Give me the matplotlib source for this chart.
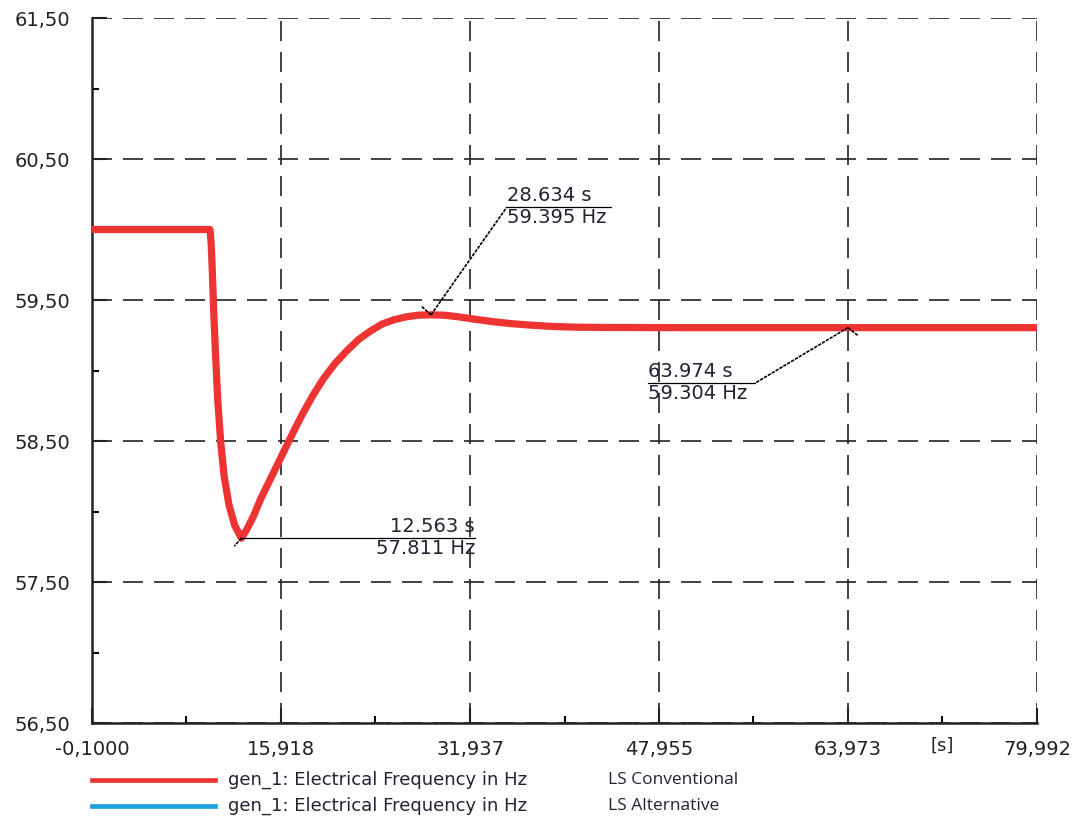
import numpy as np
import matplotlib.pyplot as plt
from matplotlib.lines import Line2D
from matplotlib.transforms import blended_transform_factory

# generator frequency after load shedding
time_s = [-0.1, 9.9, 10.0, 10.1, 10.2, 10.35, 10.55, 10.8, 11.1, 11.5, 12.0, 12.563,
          13.0, 13.6, 14.2, 14.9, 15.6, 16.3, 17.0, 17.8, 18.6, 19.5, 20.5, 21.5,
          22.5, 23.5, 24.5, 25.5, 26.5, 27.5, 28.634, 29.8, 31.0, 32.5, 34.0, 35.5,
          37.0, 39.0, 41.0, 44.0, 50.0, 63.974, 79.992]
freq_hz = [60.0, 60.0, 59.9, 59.7, 59.45, 59.15, 58.8, 58.5, 58.25, 58.05, 57.9, 57.811,
           57.87, 57.97, 58.09, 58.21, 58.33, 58.45, 58.57, 58.70, 58.82, 58.94, 59.05, 59.14,
           59.22, 59.28, 59.33, 59.36, 59.38, 59.392, 59.395, 59.392, 59.38, 59.362, 59.345, 59.332,
           59.322, 59.312, 59.307, 59.305, 59.304, 59.304, 59.304]

x_ticks = [-0.1, 15.918, 31.937, 47.955, 63.973, 79.992]
x_tick_labels = ['-0,1000', '15,918', '31,937', '47,955', '63,973', '79,992']
y_ticks = [56.5, 57.5, 58.5, 59.5, 60.5, 61.5]
y_tick_labels = ['56,50', '57,50', '58,50', '59,50', '60,50', '61,50']

# cursor readouts (time, value)
markers = [
    (12.563, 57.811),
    (28.634, 59.395),
    (63.974, 59.304),
]

series_names = ['gen_1: Electrical Frequency in Hz', 'gen_1: Electrical Frequency in Hz']
case_names = ['LS Conventional', 'LS Alternative']
series_colors = ['#ee3333', '#1ea0dc']

fig = plt.figure(figsize=(10.75, 8.21), dpi=100)
ax = fig.add_axes([92/1075, 1 - 723/821, (1037-92)/1075, (723-18)/821])

ax.plot(time_s, freq_hz, color=series_colors[0], lw=5.2, solid_joinstyle='round', zorder=3)

ax.set_xlim(x_ticks[0], x_ticks[-1])
ax.set_ylim(y_ticks[0], y_ticks[-1])
ax.set_xticks(x_ticks)
ax.set_xticklabels(x_tick_labels)
ax.set_yticks(y_ticks)
ax.set_yticklabels(y_tick_labels)
ax.set_xticks([(a + b) / 2 for a, b in zip(x_ticks[:-1], x_ticks[1:])], minor=True)
ax.set_yticks([(a + b) / 2 for a, b in zip(y_ticks[:-1], y_ticks[1:])], minor=True)

ax.tick_params(which='major', direction='in', length=11, width=1.5, labelsize=14, colors='#222222')
ax.tick_params(which='minor', direction='in', length=5, width=1.5)
ax.tick_params(axis='x', which='major', pad=12)
ax.tick_params(axis='y', which='major', pad=16)

for s in ['top', 'right']:
    ax.spines[s].set_visible(False)
for s in ['left', 'bottom']:
    ax.spines[s].set_linewidth(1.8)
    ax.spines[s].set_color('#222222')

ax.grid(True, which='major', color='#222222', lw=1.2, linestyle=(0, (12, 6.6)))

# unit label sits on the last minor tick
trans = blended_transform_factory(ax.transData, ax.transAxes)
ax.text(71.98, -0.032, '[s]', transform=trans, ha='center', va='center',
        fontsize=13, color='#222222')

# marker annotations
txt_kw = dict(fontsize=14, color='#222233')
ln_kw = dict(color='black', lw=0.9, zorder=4)
ptr_kw = dict(color='black', lw=1.2, linestyle=(0, (2, 0.7)), zorder=4)

t, v = markers[0]
ax.plot([t, 32.36], [v, v], **ln_kw)
ax.plot([t, t - 0.6], [v, v - 0.057], **ptr_kw)
ax.text(32.36, v + 0.012, f'{t:.3f} s', ha='right', va='bottom', **txt_kw)
ax.text(32.36, v - 0.008, f'{v:.3f} Hz', ha='right', va='top', **txt_kw)

t, v = markers[1]
ax.plot([t, 35.07], [v, 60.16], **ptr_kw)
ax.plot([35.07, 43.89], [60.16, 60.16], **ln_kw)
ax.plot([t, t - 0.8], [v, v + 0.06], **ptr_kw)
ax.text(35.07, 60.172, f'{t:.3f} s', ha='left', va='bottom', **txt_kw)
ax.text(35.07, 60.152, f'{v:.3f} Hz', ha='left', va='top', **txt_kw)

t, v = markers[2]
ax.plot([t, 56.09], [v, 58.91], **ptr_kw)
ax.plot([56.09, 47.02], [58.91, 58.91], **ln_kw)
ax.plot([t, t + 0.9], [v, v - 0.06], **ptr_kw)
ax.text(47.02, 58.922, f'{t:.3f} s', ha='left', va='bottom', **txt_kw)
ax.text(47.02, 58.902, f'{v:.3f} Hz', ha='left', va='top', **txt_kw)

# legend below the plot
for i in range(2):
    y = 1 - (780 + 26 * i) / 821
    fig.add_artist(Line2D([92/1075, 215/1075], [y, y], color=series_colors[i], lw=3.4))
    fig.text(228/1075, y, series_names[i], ha='left', va='center', fontsize=13, color='#222233')
    fig.text(608/1075, y, case_names[i], ha='left', va='center', fontsize=12.5,
             family='Open Sans', color='#222233')

fig.savefig('out.png', dpi=100)
